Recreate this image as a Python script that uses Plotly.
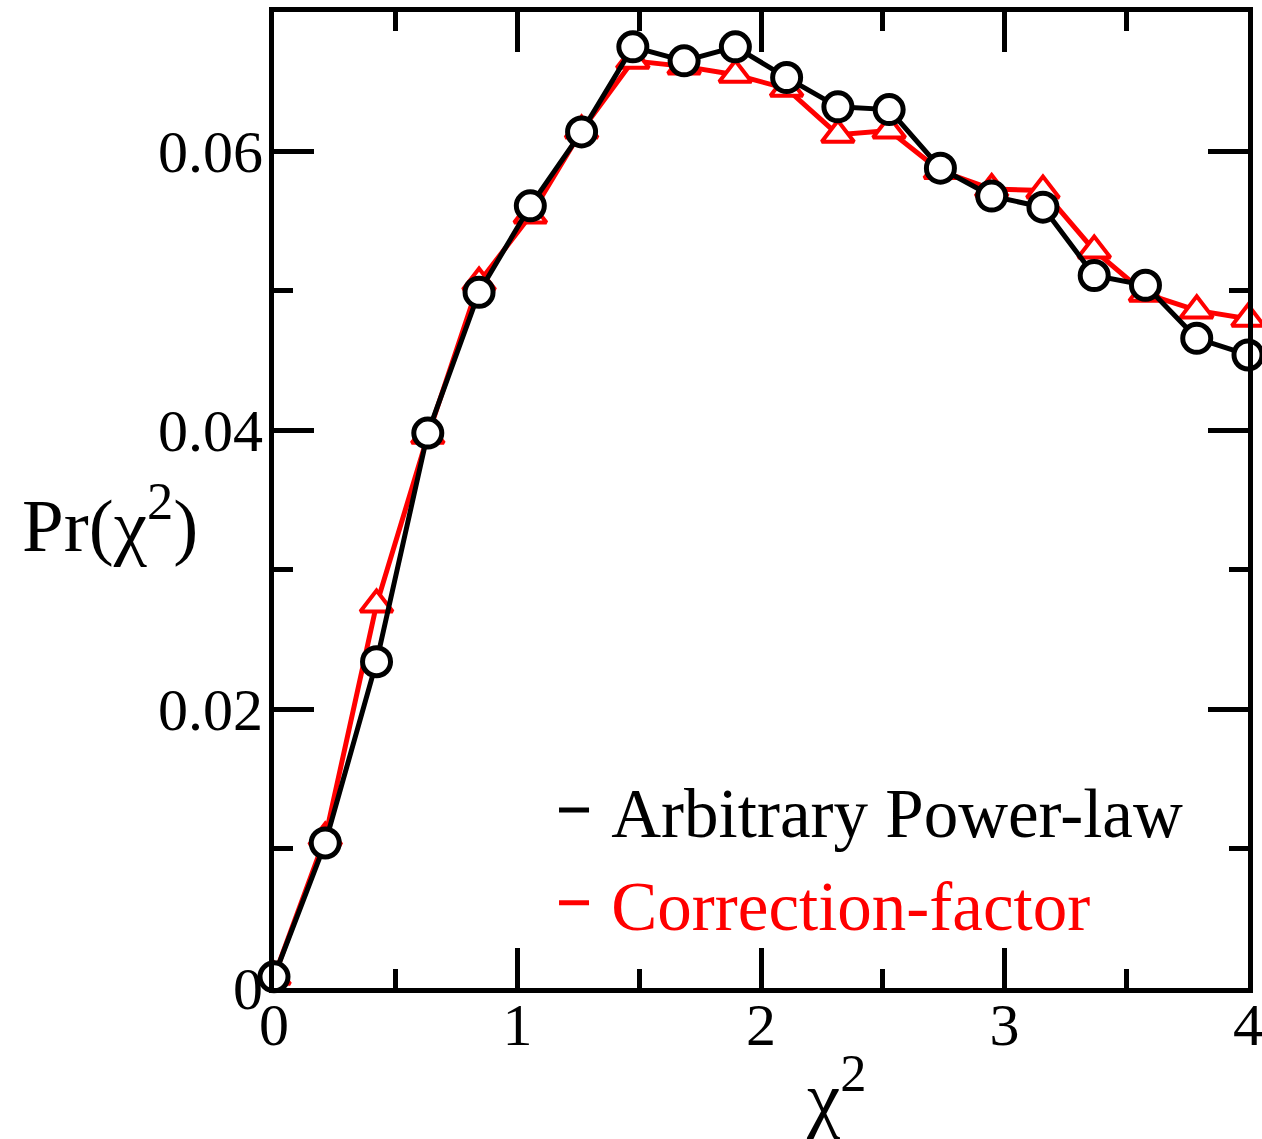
import plotly.graph_objects as go

n_points = 20
x_max = 4.0
chi2 = [i * x_max / (n_points - 1) for i in range(n_points)]

power_law = [0.0008, 0.0104, 0.0234, 0.0398, 0.0499, 0.0561, 0.0614, 0.0675, 0.0665, 0.0675,
             0.0653, 0.0632, 0.0630, 0.0588, 0.0568, 0.0560, 0.0511, 0.0504, 0.0466, 0.0454]
correction = [0.0008, 0.0108, 0.0275, 0.0396, 0.0506, 0.0554, 0.0615, 0.0665, 0.0661, 0.0655,
              0.0645, 0.0612, 0.0615, 0.0586, 0.0573, 0.0572, 0.0529, 0.0498, 0.0486, 0.0480]

names = ["Arbitrary Power-law", "Correction-factor"]
x_ticks = [0, 1, 2, 3, 4]
y_ticks = [0, 0.02, 0.04, 0.06]

FONT = "Liberation Serif, Times New Roman, serif"

fig = go.Figure()
# data traces (red under black)
fig.add_trace(go.Scatter(x=chi2, y=correction, mode="lines+markers", showlegend=False,
                         line=dict(color="red", width=5),
                         marker=dict(symbol="triangle-up", size=28, color="white",
                                     line=dict(color="red", width=4)),
                         cliponaxis=False))
fig.add_trace(go.Scatter(x=chi2, y=power_law, mode="lines+markers", showlegend=False,
                         line=dict(color="black", width=5),
                         marker=dict(symbol="circle", size=28, color="white",
                                     line=dict(color="black", width=5)),
                         cliponaxis=False))
# legend-only entries
fig.add_trace(go.Scatter(x=[None], y=[None], mode="lines", name="&nbsp;" + names[0],
                         line=dict(color="black", width=5)))
fig.add_trace(go.Scatter(x=[None], y=[None], mode="lines",
                         name='&nbsp;<span style="color:red">' + names[1] + '</span>',
                         line=dict(color="red", width=5)))

axis_common = dict(showline=True, linecolor="black", linewidth=5, mirror="allticks",
                   ticks="inside", tickwidth=5, ticklen=40, tickcolor="black",
                   showgrid=False, zeroline=False, automargin=False,
                   ticklabeloverflow="allow",
                   tickfont=dict(family=FONT, size=60, color="black"))

fig.update_xaxes(range=[0, 4], tickvals=x_ticks, ticktext=[str(v) for v in x_ticks],
                 minor=dict(dtick=0.5, ticks="inside", ticklen=19, tickwidth=5, tickcolor="black",
                            showgrid=False),
                 ticklabelstandoff=-20,
                 **axis_common)
fig.update_yaxes(range=[0, 0.07], tickvals=y_ticks, ticktext=["0", "0.02", "0.04", "0.06"],
                 minor=dict(dtick=0.01, ticks="inside", ticklen=19, tickwidth=5, tickcolor="black",
                            showgrid=False),
                 ticklabelstandoff=-6,
                 **axis_common)

fig.update_layout(
    width=1262, height=1139,
    margin=dict(l=274, r=14, t=12, b=151),
    plot_bgcolor="white", paper_bgcolor="white",
    font=dict(family=FONT, color="black"),
    legend=dict(x=0.2875, y=0.235, xanchor="left", yanchor="top",
                bgcolor="rgba(0,0,0,0)", borderwidth=0,
                font=dict(family=FONT, size=69, color="black"),
                tracegroupgap=0),
    annotations=[
        dict(text="Pr(χ<sup>2</sup>)", xref="paper", yref="paper", x=-0.168, y=0.48,
             xanchor="center", yanchor="middle", showarrow=False,
             font=dict(family=FONT, size=75, color="black")),
        dict(text="χ<sup>2</sup>", xref="paper", yref="paper", x=0.578, y=-0.106,
             xanchor="center", yanchor="middle", showarrow=False,
             font=dict(family=FONT, size=75, color="black")),
    ],
)

fig.write_html("out.html")
